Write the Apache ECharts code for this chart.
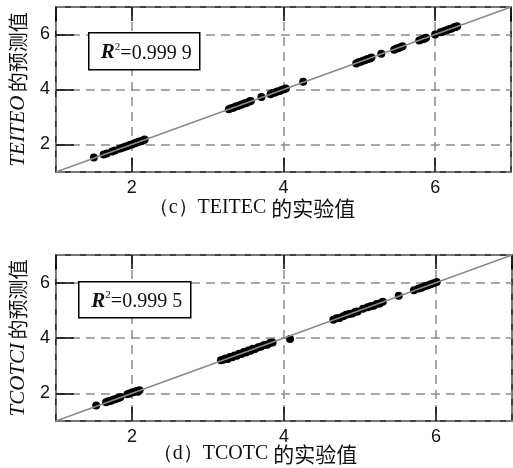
<!DOCTYPE html>
<html><head><meta charset="utf-8">
<script src="https://cdn.jsdelivr.net/npm/echarts@6/dist/echarts.min.js"></script>
<style>html,body{margin:0;padding:0;background:#fff}#c{width:513px;height:468px}</style>
</head><body><div id="c"></div>
<script>
// ---- data (c) TEITEC ----
const expC = [1.50,1.63,1.67,1.74,1.78,1.84,1.88,1.91,1.94,1.97,2.00,2.03,2.06,2.09,2.12,2.15,2.17,
  3.28,3.31,3.34,3.37,3.40,3.43,3.46,3.49,3.52,3.55,3.57,3.71,3.83,3.86,3.89,3.92,3.95,3.98,4.01,4.03,4.26,
  4.96,4.99,5.02,5.05,5.08,5.11,5.14,5.16,5.29,5.46,5.49,5.52,5.55,5.57,5.79,5.83,5.86,5.88,6.00,
  6.07,6.10,6.13,6.16,6.19,6.22,6.25,6.27,6.29];
const predC = [1.53,1.64,1.67,1.75,1.78,1.85,1.88,1.92,1.94,1.98,2.00,2.04,2.06,2.10,2.12,2.15,2.18,
  3.28,3.32,3.34,3.38,3.40,3.44,3.46,3.50,3.52,3.56,3.58,3.73,3.83,3.87,3.89,3.93,3.95,3.99,4.01,4.04,4.28,
  4.95,4.99,5.01,5.05,5.07,5.11,5.13,5.16,5.30,5.45,5.49,5.51,5.55,5.57,5.78,5.83,5.85,5.88,6.00,
  6.08,6.10,6.14,6.16,6.20,6.22,6.26,6.27,6.30];
// ---- data (d) TCOTC ----
const expD = [1.53,1.66,1.69,1.72,1.75,1.78,1.81,1.83,1.85,1.94,1.97,2.00,2.03,2.06,2.08,2.10,
  3.17,3.20,3.23,3.26,3.29,3.32,3.35,3.38,3.41,3.44,3.47,3.50,3.53,3.56,3.59,3.62,3.66,3.70,3.74,3.78,3.82,3.85,
  4.08,4.65,4.69,4.73,4.78,4.82,4.86,4.90,4.94,4.97,5.04,5.10,5.14,5.18,5.22,5.26,5.30,5.51,5.71,
  5.77,5.81,5.85,5.89,5.93,5.97,6.01];
const predD = [1.56,1.68,1.71,1.72,1.77,1.79,1.82,1.84,1.87,1.97,1.99,2.03,2.05,2.08,2.06,2.11,
  3.20,3.21,3.26,3.24,3.31,3.30,3.37,3.36,3.43,3.42,3.49,3.48,3.55,3.54,3.61,3.60,3.67,3.69,3.75,3.76,3.83,3.84,
  3.96,4.66,4.71,4.72,4.79,4.84,4.87,4.89,4.95,4.96,5.06,5.11,5.15,5.17,5.23,5.25,5.31,5.53,5.73,
  5.79,5.82,5.87,5.90,5.94,5.98,6.02];
const axisMin = 1, axisMax = 7;
const titleCpre = '（c）TEITEC ', titleCcn = '的实验值';
const titleDpre = '（d）TCOTC ', titleDcn = '的实验值';
const yNameC = 'TEITEO';
const yNameD = 'TCOTCI';
const r2C = '=0.999 9';
const r2D = '=0.999 5';

const pairs = (xs, ys) => xs.map((v, i) => [v, ys[i]]);

const splitStyle = {show: true, lineStyle: {color: '#8c8c8c', width: 1.5, type: [9, 6]}};
const labelFont = {color: '#111', fontFamily: 'Liberation Sans', fontSize: 18};

function xAx(g, top) {
  return {
    type: 'value', gridIndex: g, min: axisMin, max: axisMax, splitNumber: 3,
    position: top ? 'top' : 'bottom',
    axisLine: {show: false},
    axisTick: {show: true, inside: true, length: 14, lineStyle: {color: '#000', width: 1.5}},
    axisLabel: Object.assign({show: !top, margin: 7, showMinLabel: false, showMaxLabel: false}, labelFont),
    splitLine: top ? {show: false} : splitStyle
  };
}
function yAx(g, nm) {
  return {
    type: 'value', gridIndex: g, min: axisMin, max: axisMax, splitNumber: 3,
    axisLine: {show: false},
    axisTick: {show: true, inside: true, length: 18, lineStyle: {color: '#000', width: 1.5}},
    axisLabel: Object.assign({margin: 6, showMinLabel: false, showMaxLabel: false}, labelFont),
    splitLine: splitStyle,
    name: '{i|' + nm + '} {c|的预测值}',
    nameLocation: 'middle', nameGap: 24,
    nameTextStyle: {rich: {
      i: {fontFamily: 'Liberation Serif', fontStyle: 'italic', fontSize: 21, color: '#111'},
      c: {fontFamily: 'Noto Sans CJK SC', fontSize: 20, color: '#111'}
    }}
  };
}
function box(l, t, w, h, txt) {
  return {
    type: 'group', left: l, top: t, children: [
      {type: 'rect', shape: {x: 0, y: 0, width: w, height: h}, style: {fill: '#fff', stroke: '#000', lineWidth: 1.5}, z: 100},
      {type: 'text', x: w / 2 + 2, y: h / 2 + 1, z: 101, style: {
        text: '{r|R}{s|2}{t|' + txt + '}', align: 'center', verticalAlign: 'middle',
        rich: {
          r: {fontFamily: 'Liberation Serif', fontStyle: 'italic', fontWeight: 'bold', fontSize: 21, lineHeight: 22, verticalAlign: 'bottom', fill: '#111'},
          s: {fontFamily: 'Liberation Serif', fontSize: 11, lineHeight: 22, verticalAlign: 'top', fill: '#111'},
          t: {fontFamily: 'Liberation Serif', fontSize: 20, lineHeight: 22, verticalAlign: 'bottom', fill: '#111'}
        }
      }}
    ]
  };
}
function title(cx, cy, pre, cn) {
  return {type: 'text', x: cx, y: cy, style: {text: '{a|' + pre + '}{b|' + cn + '}', align: 'center', verticalAlign: 'middle',
    rich: {
      a: {fontFamily: 'Liberation Serif', fontSize: 20, fill: '#111'},
      b: {fontFamily: 'Noto Sans CJK SC', fontSize: 21, fill: '#111'}
    }}};
}

const chart = echarts.init(document.getElementById('c'), null, {renderer: 'canvas'});
chart.setOption({
  backgroundColor: '#fff',
  animation: false,
  grid: [
    {left: 54, top: 7, width: 457, height: 165, show: true, borderColor: '#000', borderWidth: 1.5, backgroundColor: 'transparent'},
    {left: 52, top: 255, width: 460, height: 166, show: true, borderColor: '#000', borderWidth: 1.5, backgroundColor: 'transparent'}
  ],
  xAxis: [xAx(0, false), xAx(0, true), xAx(1, false), xAx(1, true)],
  yAxis: [yAx(0, yNameC), yAx(1, yNameD)],
  series: [
    {type: 'scatter', xAxisIndex: 0, yAxisIndex: 0, data: pairs(expC, predC), symbolSize: 8, itemStyle: {color: '#000', opacity: 1}, z: 2},
    {type: 'line', xAxisIndex: 0, yAxisIndex: 0, data: [[axisMin, axisMin], [axisMax, axisMax]], symbol: 'none', lineStyle: {color: '#8a8a8a', width: 1.5}, z: 3},
    {type: 'scatter', xAxisIndex: 2, yAxisIndex: 1, data: pairs(expD, predD), symbolSize: 8, itemStyle: {color: '#000', opacity: 1}, z: 2},
    {type: 'line', xAxisIndex: 2, yAxisIndex: 1, data: [[axisMin, axisMin], [axisMax, axisMax]], symbol: 'none', lineStyle: {color: '#8a8a8a', width: 1.5}, z: 3}
  ],
  graphic: [
    box(88, 32, 111, 37, r2C),
    box(78, 281, 112, 36, r2D),
    title(252, 208, titleCpre, titleCcn),
    title(255, 454, titleDpre, titleDcn)
  ]
});
</script></body></html>
